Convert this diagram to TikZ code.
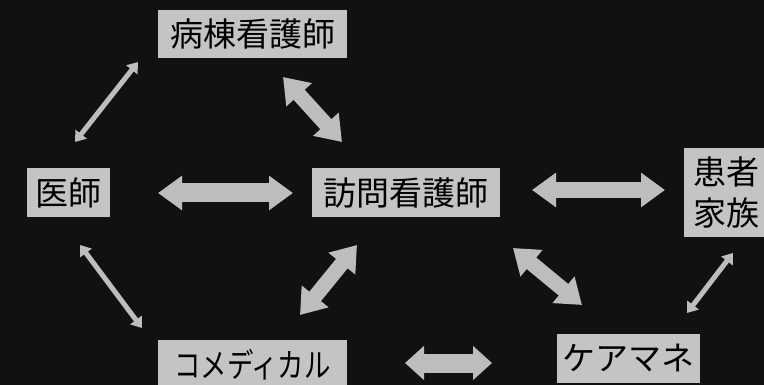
\documentclass[tikz,border=0pt]{standalone}
\usepackage{fontspec}
\newfontfamily\jp{Noto Sans CJK JP}
\usetikzlibrary{arrows.meta}
\definecolor{bg}{HTML}{111111}
\definecolor{boxgray}{HTML}{C4C4C4}
\definecolor{arrgray}{HTML}{BDBDBD}
\begin{document}
\begin{tikzpicture}[x=1pt,y=-1pt,
  box/.style={fill=boxgray, inner sep=0pt, text=black, font=\jp\fontsize{33}{41}\selectfont, anchor=center},
  thick2/.style={draw=arrgray, line width=17pt,
     {Triangle[width=33pt,length=24pt]}-{Triangle[width=33pt,length=24pt]}},
  thin2/.style={draw=arrgray, line width=5pt,
     {Triangle[width=14pt,length=10pt]}-{Triangle[width=14pt,length=10pt]}}]
\fill[bg] (0,0) rectangle (764,385);
\useasboundingbox (0,0) rectangle (764,385);
\clip (0,0) rectangle (764,385);
% boxes
\node[box, minimum width=189pt, minimum height=48pt] (byoto) at (252.5,34) {病棟看護師};
\node[box, minimum width=83pt, minimum height=49pt] (ishi) at (68.5,192.5) {医師};
\node[box, minimum width=188pt, minimum height=49pt] (homon) at (406,192.5) {訪問看護師};
\node[box, minimum width=84pt, minimum height=89pt, align=center] (kanja) at (726,192.5) {患者\\家族};
\node[box, minimum width=189pt, minimum height=50pt] (comed) at (252.5,365) {\scalebox{0.8}[1]{コメディカル}};
\node[box, minimum width=143pt, minimum height=49pt] (care) at (628.5,358.5) {ケアマネ};
% connector ends
\coordinate (a1) at (75,142);   \coordinate (a2) at (138,62);
\coordinate (b1) at (283,77);   \coordinate (b2) at (342,142);
\coordinate (c1) at (158,193);  \coordinate (c2) at (293,193);
\coordinate (d1) at (532,190);  \coordinate (d2) at (665,190);
\coordinate (e1) at (80,245);   \coordinate (e2) at (142,328);
\coordinate (f1) at (300,315);  \coordinate (f2) at (357,245);
\coordinate (g1) at (513,248);  \coordinate (g2) at (582,305);
\coordinate (h1) at (733,253);  \coordinate (h2) at (687,313);
\coordinate (i1) at (405,363);  \coordinate (i2) at (492,363);
% connectors
\draw[thin2] (a1) -- (a2);
\draw[thick2, line width=15pt] (b1) -- (b2);
\draw[thick2, line width=19pt] (c1) -- (c2);
\draw[thick2, line width=16pt] (d1) -- (d2);
\draw[thin2] (e1) -- (e2);
\draw[thick2, line width=15pt] (f1) -- (f2);
\draw[thick2, line width=15pt] (g1) -- (g2);
\draw[thin2] (h1) -- (h2);
\draw[draw=arrgray, line width=19pt,
  {Triangle[width=33pt,length=19pt]}-{Triangle[width=33pt,length=19pt]}] (i1) -- (i2);
\end{tikzpicture}
\end{document}
